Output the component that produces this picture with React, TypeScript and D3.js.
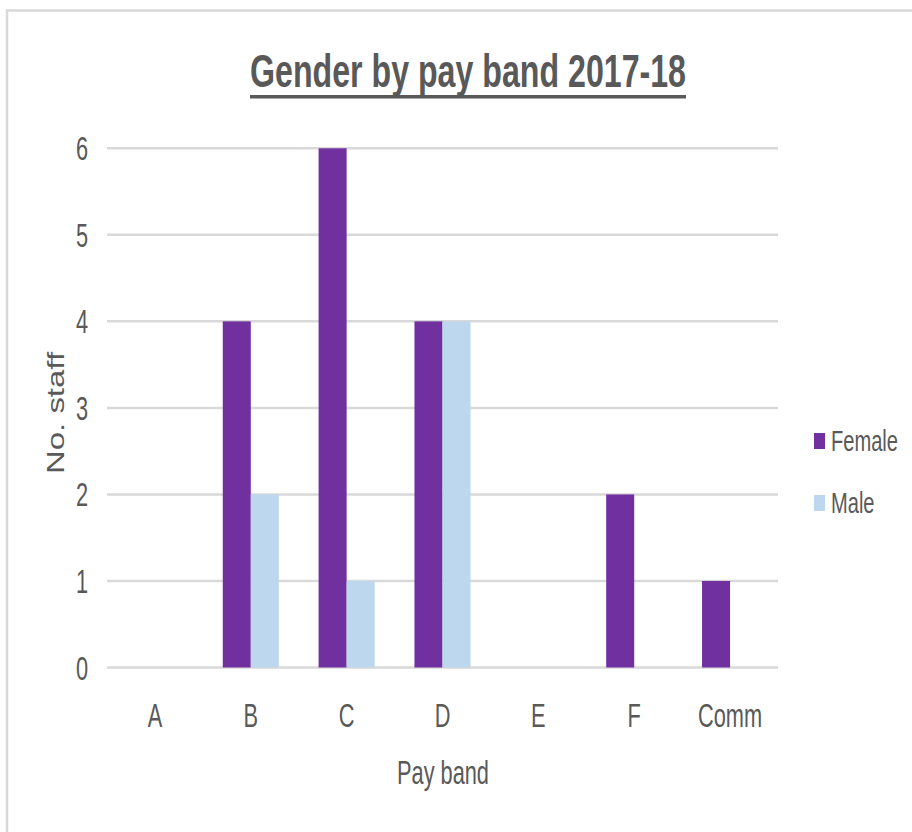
import React from "react";
import * as d3 from "d3";

const categories = ["A", "B", "C", "D", "E", "F", "Comm"];
const seriesNames = ["Female", "Male"];
const femaleValues = [0, 4, 6, 4, 0, 2, 1];
const maleValues = [0, 2, 1, 4, 0, 0, 0];
const yTicks = [0, 1, 2, 3, 4, 5, 6];
const seriesColors = ["#7030A0", "#BDD7EE"];
const titleText = "Gender by pay band 2017-18";
const xAxisTitle = "Pay band";
const yAxisTitle = "No. staff";

const W = 912;
const H = 832;
const K = 0.66; // horizontal squash of text
const TEXT = "#595959";
const GRID = "#D9D9D9";

export default function App() {
  const plotLeft = 107;
  const plotRight = 778;
  const plotTop = 148.3;
  const plotBottom = 667.5;

  const x0 = d3.scaleBand<string>().domain(categories).range([plotLeft, plotRight]).padding(0);
  const x1 = d3
    .scaleBand<string>()
    .domain(seriesNames)
    .range([0, x0.bandwidth()])
    .paddingInner(0)
    .paddingOuter(0.71);
  const y = d3.scaleLinear().domain([0, 6]).range([plotBottom, plotTop]);

  const series = [femaleValues, maleValues];
  const font = "'Liberation Sans', Arial, sans-serif";

  return (
    <svg
      width={W}
      height={H}
      style={{ position: "absolute", left: 0, top: 0, background: "#fff" }}
      fontFamily={font}
    >
      {/* frame */}
      <rect x={7} y={10.5} width={W + 10} height={H + 10} fill="#fff" stroke={GRID} strokeWidth={2.5} />

      {/* title */}
      <text
        x={468}
        y={87}
        textAnchor="middle"
        fontSize={46}
        fontWeight="bold"
        fill={TEXT}
        textLength={436}
        lengthAdjust="spacingAndGlyphs"
      >
        {titleText}
      </text>
      <rect x={250} y={95} width={436} height={3.5} fill={TEXT} />

      {/* gridlines */}
      {yTicks.map((t) => (
        <line key={"g" + t} x1={plotLeft} x2={plotRight} y1={y(t)} y2={y(t)} stroke={GRID} strokeWidth={2.5} />
      ))}

      {/* y tick labels */}
      {yTicks.map((t) => (
        <text
          key={"yt" + t}
          transform={`translate(88,${y(t) + 12}) scale(${K},1)`}
          textAnchor="end"
          fontSize={33}
          fill={TEXT}
        >
          {t}
        </text>
      ))}

      {/* bars */}
      {categories.map((c, i) => (
        <g key={c} transform={`translate(${x0(c)},0)`}>
          {seriesNames.map((s, j) => {
            const v = series[j][i];
            if (!v) return null;
            return (
              <rect
                key={s}
                x={x1(s)}
                y={y(v)}
                width={x1.bandwidth()}
                height={y(0) - y(v)}
                fill={seriesColors[j]}
              />
            );
          })}
        </g>
      ))}

      {/* x tick labels */}
      {categories.map((c) => (
        <text
          key={"xt" + c}
          transform={`translate(${(x0(c) as number) + x0.bandwidth() / 2},727) scale(${K},1)`}
          textAnchor="middle"
          fontSize={33}
          fill={TEXT}
        >
          {c}
        </text>
      ))}

      {/* axis titles */}
      <text transform={`translate(443,784) scale(${K},1)`} textAnchor="middle" fontSize={33} fill={TEXT}>
        {xAxisTitle}
      </text>
      <text
        transform={`translate(64,413) scale(0.7,1) rotate(-90)`}
        textAnchor="middle"
        fontSize={33}
        fill={TEXT}
      >
        {yAxisTitle}
      </text>

      {/* legend */}
      {seriesNames.map((s, j) => (
        <g key={"lg" + s} transform={`translate(814,${441 + j * 62})`}>
          <rect x={0} y={-8} width={11} height={16} fill={seriesColors[j]} />
          <text transform={`translate(17,10) scale(0.67,1)`} fontSize={30} fill={TEXT}>
            {s}
          </text>
        </g>
      ))}
    </svg>
  );
}
